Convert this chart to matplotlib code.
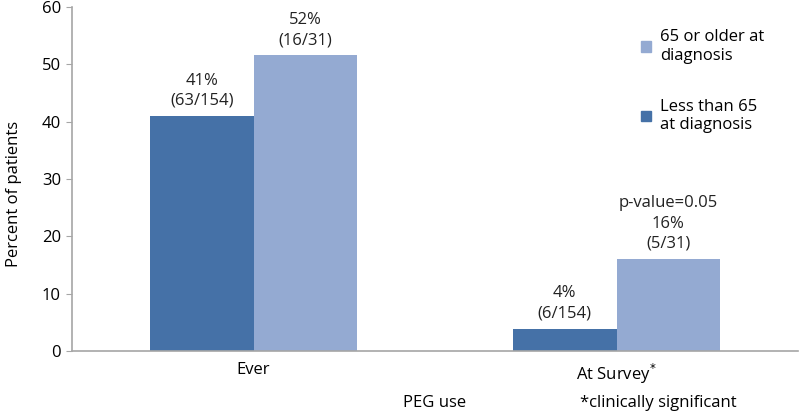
import matplotlib
matplotlib.use("Agg")
import matplotlib.pyplot as plt
import numpy as np
from matplotlib.patches import Patch

plt.rcParams['font.family'] = ['Open Sans', 'DejaVu Sans']

categories = ["Ever", "At Survey$^{*}$"]
under65 = [41.0, 3.9]
over65 = [51.6, 16.1]
under65_labels = ["41%\n(63/154)", "4%\n(6/154)"]
over65_labels = ["52%\n(16/31)", "p-value=0.05\n16%\n(5/31)"]
yticks = [0, 10, 20, 30, 40, 50, 60]

c_dark = "#4571a7"
c_light = "#94aad2"
gray = "#a6a6a6"
fs = 12

fig = plt.figure(figsize=(8, 4.11), dpi=100)
ax = fig.add_axes([0.09, 0.146, 0.9075, 0.837])

x = np.arange(len(categories))
w = 0.285
b1 = ax.bar(x - w / 2, under65, w, color=c_dark)
b2 = ax.bar(x + w / 2, over65, w, color=c_light)

for rect, lab in zip(b1, under65_labels):
    ax.annotate(lab, (rect.get_x() + rect.get_width() / 2, rect.get_height()),
                xytext=(0, 5), textcoords="offset points", ha="center", va="bottom",
                fontsize=fs, linespacing=1.35, color="#222222")
for rect, lab in zip(b2, over65_labels):
    ax.annotate(lab, (rect.get_x() + rect.get_width() / 2, rect.get_height()),
                xytext=(0, 5), textcoords="offset points", ha="center", va="bottom",
                fontsize=fs, linespacing=1.35, color="#222222")

ax.set_xlim(-0.5, 1.5)
ax.set_ylim(0, 60)
ax.set_yticks(yticks)
ax.set_xticks(x)
ax.set_xticklabels(categories, fontsize=fs)
ax.tick_params(axis="x", length=0, pad=8)
ax.tick_params(axis="y", length=4, color=gray, labelsize=fs, pad=4)

for s in ["top", "right"]:
    ax.spines[s].set_visible(False)
for s in ["left", "bottom"]:
    ax.spines[s].set_color(gray)
    ax.spines[s].set_linewidth(1.2)

fig.text(14 / 800, 1 - 194 / 411, "Percent of patients", fontsize=fs,
         rotation=90, ha="center", va="center")
fig.text(435 / 800, 1 - 403 / 411, "PEG use", fontsize=fs, ha="center", va="center")
fig.text(580 / 800, 1 - 403 / 411, "*clinically significant", fontsize=fs, ha="left", va="center")

handles = [Patch(color=c_light), Patch(color=c_dark)]
leg = fig.legend(handles, ["65 or older at\ndiagnosis", "Less than 65\nat diagnosis"],
                 loc="upper left", bbox_to_anchor=(0.783, 0.965), frameon=False,
                 fontsize=fs, handlelength=0.6, handleheight=0.6, handletextpad=0.5,
                 labelspacing=2.1)

fig.savefig("out.png", dpi=100)
